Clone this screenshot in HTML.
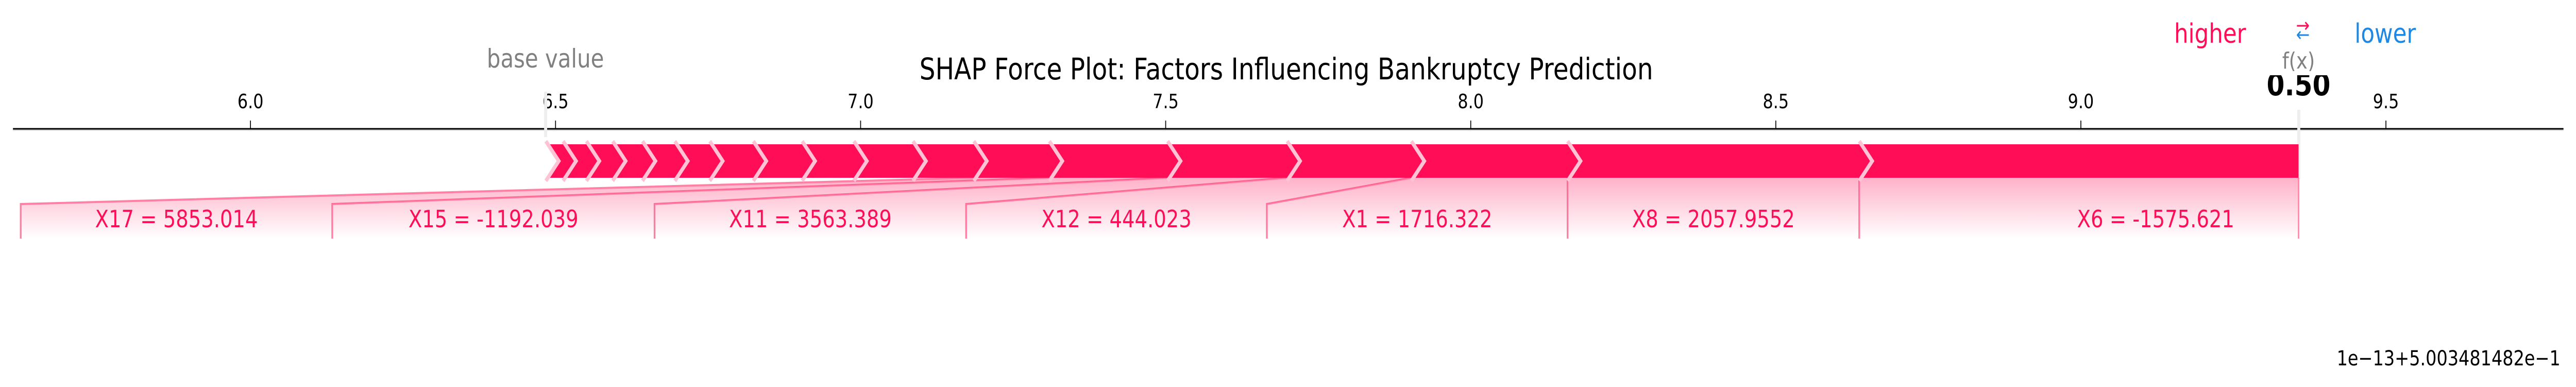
<!DOCTYPE html>
<html><head><meta charset="utf-8"><style>
html,body{margin:0;padding:0;background:#fff;width:100vw;height:100vh;overflow:hidden}
svg{display:block;width:100vw;height:100vh}
svg text{font-family:"DejaVu Sans","Liberation Sans",sans-serif}
</style></head><body>
<svg id="chart" viewBox="0 0 5970 751" preserveAspectRatio="none" xmlns="http://www.w3.org/2000/svg">
<defs>
<linearGradient id="lg" x1="0" y1="0" x2="0" y2="1">
<stop offset="0" stop-color="#ff0d57" stop-opacity="0.32"/>
<stop offset="1" stop-color="#ff0d57" stop-opacity="0"/>
</linearGradient>
</defs>
<g id="axis"></g>
<g id="labels"></g>
<g id="bars"></g>
<text x="2981" y="154" font-size="58" text-anchor="middle" fill="#000">SHAP Force Plot: Factors Influencing Bankruptcy Prediction</text>
<text x="1264" y="131" font-size="50" text-anchor="middle" fill="#808080">base value</text>
<text x="5122" y="83" font-size="52" text-anchor="middle" fill="#ff0d57">higher</text>
<text x="5337" y="62" font-size="38" text-anchor="middle" fill="#ff0d57">→</text>
<text x="5337" y="80" font-size="38" text-anchor="middle" fill="#1e88e5">←</text>
<text x="5528" y="83" font-size="52" text-anchor="middle" fill="#1e88e5">lower</text>
<text x="5327" y="133" font-size="44" text-anchor="middle" fill="#808080">f(x)</text>
<text x="5327" y="185" font-size="60" font-weight="bold" text-anchor="middle" fill="#000">0.50</text>
<rect x="5250" y="138" width="160" height="8" fill="#fff"/>
<text x="5934" y="709" font-size="40" text-anchor="end" fill="#000">1e−13+5.003481482e−1</text>
</svg>
<script>
const ticks=[6.0,6.5,7.0,7.5,8.0,8.5,9.0,9.5];
const tickLabels=["6.0","6.5","7.0","7.5","8.0","8.5","9.0","9.5"];
const baseValue=6.4841;
const effects=[0.0283,0.0382,0.0431,0.0488,0.0530,0.0573,0.0714,0.0800,0.0848,0.0969,0.0997,0.1238,0.1938,0.1959,0.2036,0.2561,0.4780,0.7200];
const featureNames=["","","","","","","","","","","","X17","X15","X11","X12","X1","X8","X6"];
const featureValues=["","","","","","","","","","","","5853.014","-1192.039","3563.389","444.023","1716.322","2057.9552","-1575.621"];

const NS="http://www.w3.org/2000/svg";
function x(v){return 1287.5+(v-6.5)*1414;}
function mk(tag,attrs,parent){const e=document.createElementNS(NS,tag);for(const k in attrs)e.setAttribute(k,attrs[k]);parent.appendChild(e);return e;}
const axis=document.getElementById('axis'),bars=document.getElementById('bars'),labels=document.getElementById('labels');
const AY=250,BT=280,BB=345,BM=(BT+BB)/2,DT=396,DB=463;

let l=mk('line',{x1:30,x2:5941,y1:AY+2,y2:AY+2,stroke:'#ddd','stroke-width':4},axis);

l=mk('line',{x1:30,x2:5941,y1:AY,y2:AY,stroke:'#000','stroke-width':3},axis);

ticks.forEach((t,i)=>{
  const tk=mk('line',{x1:x(t),x2:x(t),y1:AY-16,y2:AY,stroke:'#000','stroke-width':2},axis);
  
  
  const tl=mk('text',{x:x(t),y:210,'font-size':38,'text-anchor':'middle',fill:'#000'},axis);
  tl.textContent=tickLabels[i];
  
  
});
let gl=mk('rect',{x:x(baseValue)-4,y:178,width:7,height:88,fill:'#eee'},axis);


const bounds=[baseValue];effects.forEach(e=>bounds.push(bounds[bounds.length-1]+e));
const fx=bounds[bounds.length-1];
let fl=mk('rect',{x:x(fx)-3,y:213,width:7,height:135,fill:'#eee'},axis);


const tip=30;
let main=mk('polygon',{points:`${x(baseValue)},${BT} ${x(fx)},${BT} ${x(fx)},${BB} ${x(baseValue)},${BB} ${x(baseValue)+tip},${BM}`,fill:'#ff0d57'},bars);

for(let i=0;i<effects.length;i++){
  const xs=x(bounds[i]);
  const sep=mk('polyline',{points:`${xs},${BT-6} ${xs+tip},${BM} ${xs},${BB+6}`,fill:'none',stroke:'#ffc3d5','stroke-width':8},bars);
  
  
}

let right=x(fx);
let first=true;
for(let i=effects.length-1;i>=0;i--){
  if(!featureNames[i])break;
  const txt=featureNames[i]+" = "+featureValues[i];
  const segL=x(bounds[i]),segR=x(bounds[i+1]);
  const segW=segR-segL;
  const minW=25*txt.length+372;
  const w=segW>=0.9*minW?segW:minW;
  const left=right-w;
  const poly=mk('polygon',{points:`${segL},${BB} ${segR},${BB} ${right},${DT} ${right},${DB} ${left},${DB} ${left},${DT}`,fill:'url(#lg)'},labels);
  
  
  const ln=mk('polyline',{points:`${segL},${BB} ${left},${DT} ${left},${DB}`,fill:'none',stroke:'#ff80a4','stroke-width':4},labels);
  
  
  const tx=(left+right)/2+(first?178:0);
  const t=mk('text',{x:tx,y:441,'font-size':46,'text-anchor':'middle',fill:'#ff0d57'},labels);
  t.textContent=txt;
  
  
  right=left;
  first=false;
}
let rl=mk('line',{x1:x(fx),x2:x(fx),y1:BB,y2:DB,stroke:'#ff80a4','stroke-width':3},labels);

</script>
</body></html>
